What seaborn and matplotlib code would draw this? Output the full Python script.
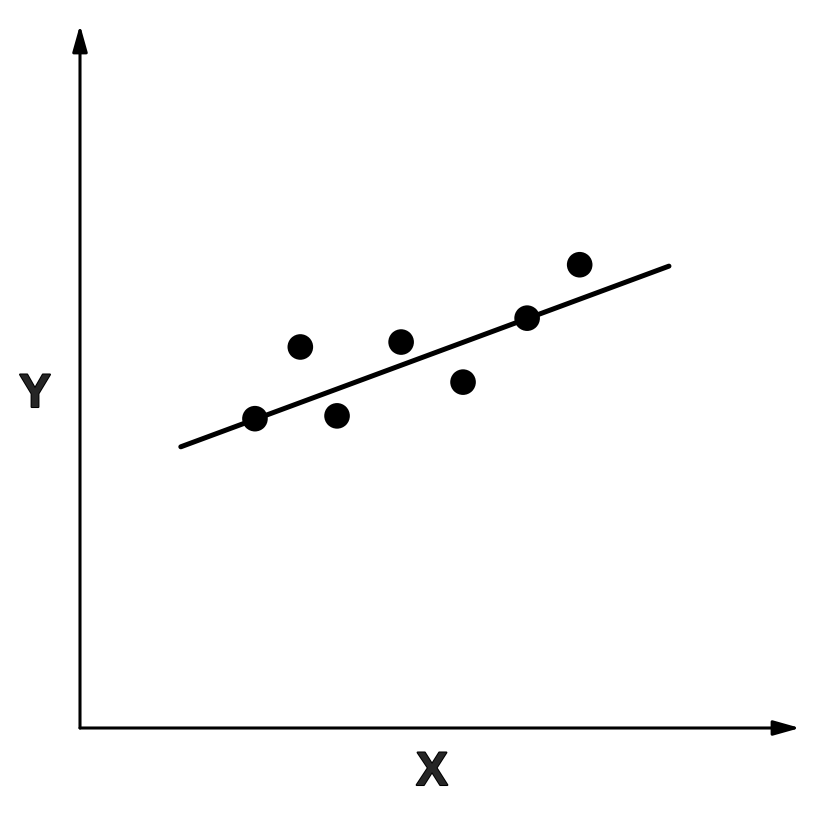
import matplotlib.pyplot as plt
import matplotlib.patheffects as pe
import seaborn as sns

# scatter points (arbitrary units)
x_pts = [2.43, 3.06, 3.57, 4.46, 5.32, 6.21, 6.94]
y_pts = [4.40, 5.42, 4.44, 5.49, 4.92, 5.83, 6.59]

# fitted line end points
x_fit = [1.40, 8.18]
y_fit = [4.00, 6.57]

x_label = "X"
y_label = "Y"

sns.set_style("white")
plt.rcParams['font.family'] = ['Liberation Sans', 'DejaVu Sans']

fig = plt.figure(figsize=(8.22, 8.14), dpi=100)
ax = fig.add_axes([80 / 822, 86 / 814, 720 / 822, 703 / 814])

sns.lineplot(x=x_fit, y=y_fit, ax=ax, color="black", linewidth=3.6)
sns.scatterplot(x=x_pts, y=y_pts, ax=ax, color="black", s=340, edgecolor="none")

ax.set_xlim(0, 10)
ax.set_ylim(0, 10)
for sp in ax.spines.values():
    sp.set_visible(False)
ax.set_xticks([])
ax.set_yticks([])
ax.set_xlabel("")
ax.set_ylabel("")

arrow = dict(arrowstyle="-|>,head_length=1.6,head_width=0.45", color="black",
             lw=2.2, shrinkA=0, shrinkB=0)
ax.annotate("", xy=(10, 0), xytext=(0, 0), arrowprops=arrow, annotation_clip=False)
ax.annotate("", xy=(0, 10), xytext=(0, 0), arrowprops=arrow, annotation_clip=False)

# labels drawn a bit heavier than plain bold
heavy = [pe.withStroke(linewidth=1.5, foreground="black")]
fig.text(35 / 822, 1 - 395 / 814, y_label, fontsize=34, weight=700,
         family="Liberation Sans", ha="center", va="center", path_effects=heavy)
fig.text(432 / 822, 1 - 773 / 814, x_label, fontsize=34, weight=700,
         family="Liberation Sans", ha="center", va="center", path_effects=heavy)

fig.savefig("out.png", dpi=100)
